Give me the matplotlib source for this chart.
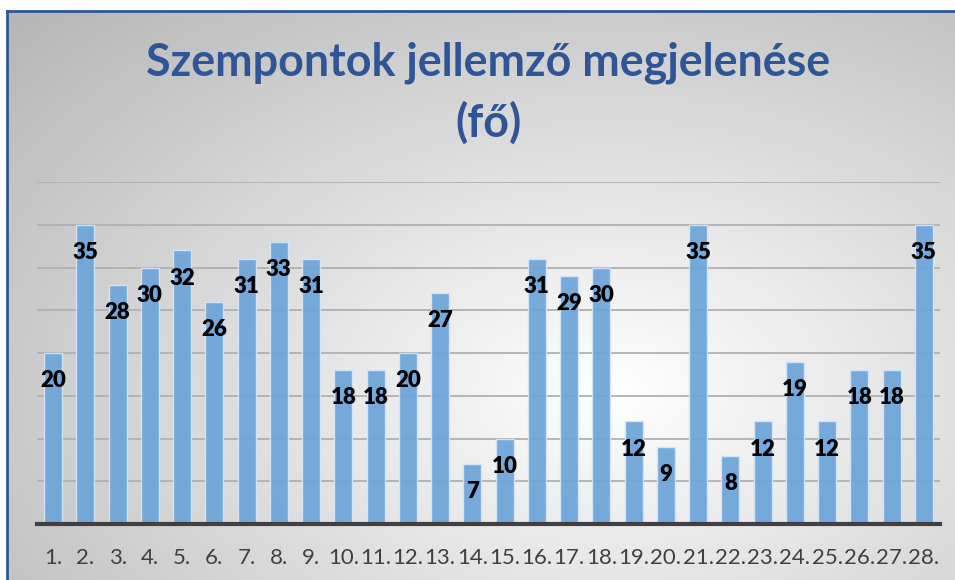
import numpy as np
import matplotlib
matplotlib.use("Agg")
import matplotlib.pyplot as plt
from matplotlib.lines import Line2D

categories = [f"{i}." for i in range(1, 29)]
values = [20, 35, 28, 30, 32, 26, 31, 33, 31, 18, 18, 20, 27, 7, 10, 31,
          29, 30, 12, 9, 35, 8, 12, 19, 12, 18, 18, 35]
title = "Szempontok jellemző megjelenése\n(fő)"

W, H = 955, 580
fig = plt.figure(figsize=(W / 100, H / 100), dpi=100)
fig.patch.set_facecolor("white")

# background gradient (figure-level axes)
bg = fig.add_axes([0, 0, 1, 1], zorder=-10)
bg.set_xlim(0, W)
bg.set_ylim(H, 0)
bg.axis("off")
xx, yy = np.meshgrid(np.arange(W), np.arange(H))
cx, cy = 610, 390
d = np.sqrt(((xx - cx) / 720.0) ** 2 + ((yy - cy) / 470.0) ** 2)
shade = 1.0 - 0.25 * np.clip(d, 0, 1.3)
shade = np.clip(shade, 0, 1)
img = np.dstack([shade, shade, shade])
mask = (xx < 8) | (yy < 12)
img[mask] = 1.0
bg.imshow(img, extent=(0, W, H, 0), aspect="auto", interpolation="bilinear")
bg.add_line(Line2D([7, 7], [11, H], color="#2F5597", lw=2))
bg.add_line(Line2D([7, W], [11, 11], color="#2F5597", lw=2))

# main axes
ax = fig.add_axes([37 / W, 56 / H, (940 - 37) / W, (524 - 182) / H])
ax.patch.set_alpha(0)
x = np.arange(len(values))
ax.set_xlim(-0.5, len(values) - 0.5)
ax.set_ylim(0, 40)
ax.set_yticks(np.arange(5, 41, 5))
ax.yaxis.grid(True, color="#b0b0b0", lw=1.3, zorder=0)
ax.set_axisbelow(True)
for s in ["left", "right", "top"]:
    ax.spines[s].set_visible(False)
ax.spines["bottom"].set_color("#404040")
ax.spines["bottom"].set_linewidth(3)
ax.spines["bottom"].set_zorder(5)
ax.tick_params(axis="y", left=False, labelleft=False)
ax.tick_params(axis="x", bottom=False, pad=14)

bars = ax.bar(x, values, width=0.56, color="#6FA6DA", alpha=0.95,
              edgecolor="#d6e6f5", linewidth=1.0, zorder=3)
ax.set_xticks(x)
ax.set_xticklabels(categories, fontsize=16, color="#404040", family="Lato")

for xi, v in zip(x, values):
    ax.annotate(str(v), (xi, v), xytext=(0, -20), textcoords="offset points",
                ha="center", va="center", fontsize=16, fontweight="heavy",
                family="Lato", color="black", zorder=6)

fig.text(488 / W, 1 - 93 / H, title, ha="center", va="center",
         fontsize=32.3, fontweight="bold", color="#2F5597", family="Lato",
         linespacing=1.5)

fig.savefig("out.png", dpi=100)
